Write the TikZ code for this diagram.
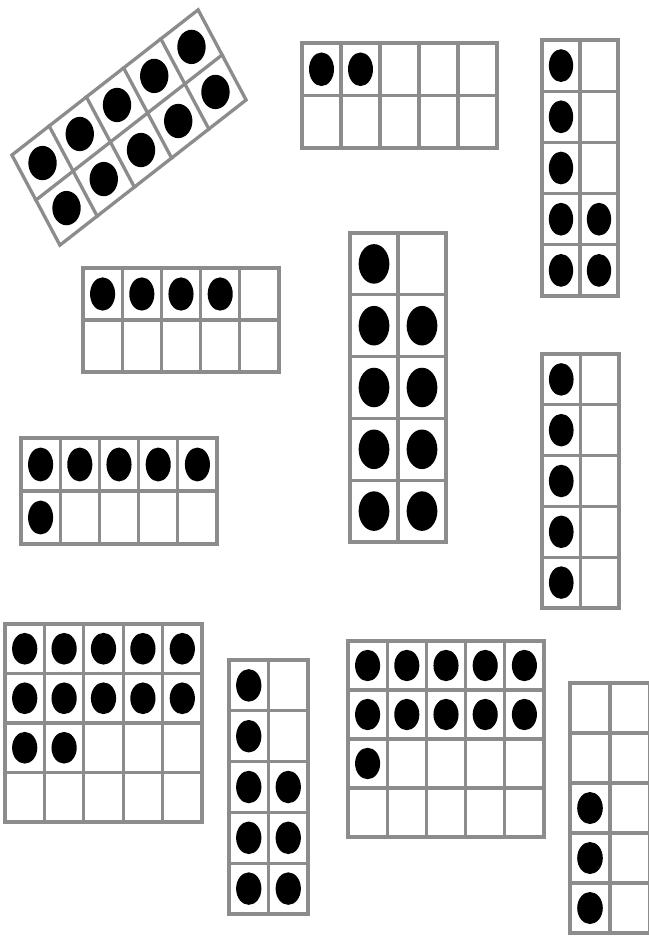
\documentclass[tikz,border=0pt]{standalone}
\definecolor{gridgray}{RGB}{140,140,140}
\tikzset{
  gridline/.style={draw=gridgray, line width=3.3pt, line cap=rect},
  dotfill/.style={fill=black}
}
% #1 centre x, #2 centre y, #3 extra transform, #4 cols, #5 rows, #6 cell width, #7 cell height, #8 dots (col/row)
\newcommand{\tenfr}[8]{%
\begin{scope}[shift={(#1,#2)},#3]
\pgfmathsetmacro\tfW{#4*#6/2}\pgfmathsetmacro\tfH{#5*#7/2}
\pgfmathtruncatemacro\tfC{#4-1}\pgfmathtruncatemacro\tfR{#5-1}
\fill[white] (-\tfW,-\tfH) rectangle (\tfW,\tfH);
\foreach \c/\r in {#8}{\fill[dotfill] ({(\c-0.5)*#6-\tfW},{(\r-0.5)*#7-\tfH}) ellipse [x radius={0.32*#6}, y radius={0.32*#7}];}
\foreach \i in {1,...,\tfC}{\draw[gridline] ({\i*#6-\tfW},-\tfH) -- ({\i*#6-\tfW},\tfH);}
\foreach \i in {1,...,\tfR}{\draw[gridline] (-\tfW,{\i*#7-\tfH}) -- (\tfW,{\i*#7-\tfH});}
\draw[gridline] (-\tfW,-\tfH) rectangle (\tfW,\tfH);
\end{scope}}
\begin{document}
\begin{tikzpicture}[x=1pt,y=-1pt]
\fill[white] (0,0) rectangle (648,936);
\useasboundingbox (0,0) rectangle (648,936);
% 1: rotated (and vertically stretched), ten dots
\tenfr{129}{127.5}{yscale=1.21,rotate=32.8}{5}{2}{44.3}{44.3}{1/1,2/1,3/1,4/1,5/1,1/2,2/2,3/2,4/2,5/2}
% 2: two dots
\tenfr{399.5}{95.5}{}{5}{2}{39}{52.5}{1/1,2/1}
% 3: seven dots (vertical)
\tenfr{580}{168}{}{2}{5}{38}{51.2}{1/1,1/2,1/3,1/4,2/4,1/5,2/5}
% 4: four dots
\tenfr{181}{320}{}{5}{2}{39.2}{52}{1/1,2/1,3/1,4/1}
% 5: nine dots (vertical)
\tenfr{398}{387.5}{}{2}{5}{48}{61.8}{1/1,1/2,2/2,1/3,2/3,1/4,2/4,1/5,2/5}
% 6: five dots (vertical)
\tenfr{580.5}{481}{}{2}{5}{38.5}{50.8}{1/1,1/2,1/3,1/4,1/5}
% 7: six dots
\tenfr{119}{491}{}{5}{2}{39.2}{53}{1/1,2/1,3/1,4/1,5/1,1/2}
% 8: twelve dots (double frame)
\tenfr{103.5}{723}{}{5}{4}{39.4}{49.5}{1/1,2/1,3/1,4/1,5/1,1/2,2/2,3/2,4/2,5/2,1/3,2/3}
% 9: eight dots (vertical)
\tenfr{268.5}{787}{}{2}{5}{39.5}{50.8}{1/1,1/2,1/3,2/3,1/4,2/4,1/5,2/5}
% 10: eleven dots (double frame)
\tenfr{446}{739}{}{5}{4}{39.2}{49}{1/1,2/1,3/1,4/1,5/1,1/2,2/2,3/2,4/2,5/2,1/3}
% 11: three dots (vertical, cut at edge)
\tenfr{610}{808}{}{2}{5}{40}{50}{1/3,1/4,1/5}
\end{tikzpicture}
\end{document}
